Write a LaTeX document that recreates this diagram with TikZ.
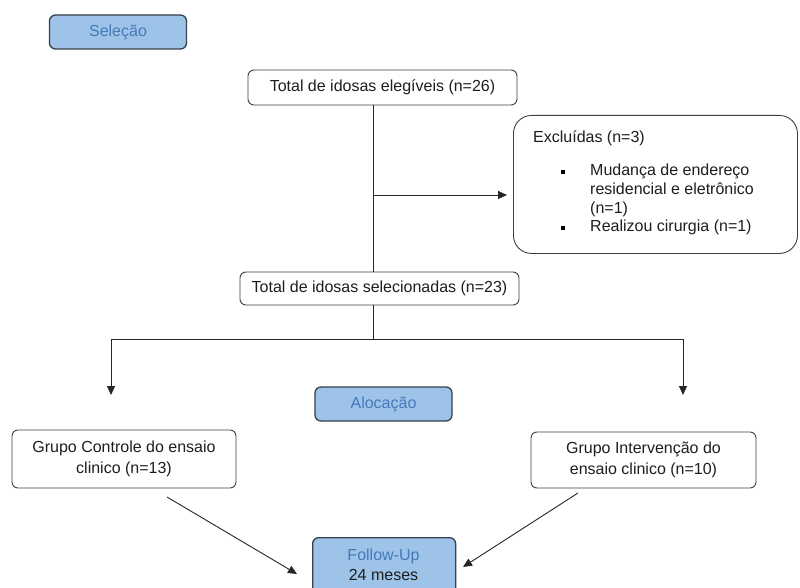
\documentclass[tikz,border=0pt]{standalone}
\usepackage{fontspec}
\setmainfont{Liberation Sans}
\usetikzlibrary{arrows.meta}
\definecolor{bluefill}{RGB}{157,195,232}
\definecolor{bluetext}{RGB}{68,122,186}
\definecolor{edgegray}{RGB}{64,64,64}
\definecolor{phaseedge}{RGB}{55,65,78}
\definecolor{inkgray}{RGB}{30,30,30}
\begin{document}
\begin{tikzpicture}[x=1pt,y=-1pt,
  box/.style={draw=edgegray, line width=0.9pt, rounded corners=6pt, fill=white,
    inner sep=0pt, align=center, text=inkgray, font=\fontsize{16}{21}\selectfont},
  phase/.style={draw=phaseedge, line width=1.3pt, rounded corners=6pt, fill=bluefill,
    inner sep=0pt, text=bluetext, align=center, font=\fontsize{16}{20}\selectfont},
  conn/.style={draw=black!85, line width=0.9pt},
  arr/.style={conn, -{Triangle[length=9pt,width=8pt]}},
  txt/.style={anchor=base west, inner sep=0pt, text=inkgray, font=\fontsize{16}{18}\selectfont},
  bullet/.style={fill=black, inner sep=0pt, minimum size=4pt}
]
\clip (0,0) rectangle (800,588);
\fill[white] (0,0) rectangle (800,588);

% phase labels
\node[phase, minimum width=137, minimum height=34] (sel) at (118,32) {Seleção};
\node[phase, minimum width=137, minimum height=34] (aloc) at (383.5,404) {Alocação};
\node[phase, minimum width=143, minimum height=70, anchor=north west] (fu) at (312,537) {};
\node[anchor=base, inner sep=0pt, text=bluetext, font=\fontsize{16}{18}\selectfont] (futop) at (383.5,560) {Follow-Up};
\node[anchor=base, inner sep=0pt, text=inkgray, font=\fontsize{16}{18}\selectfont] (fubot) at (383.5,580) {24 meses};

% main boxes
\node[box, minimum width=269, minimum height=35] (eleg) at (382.5,87.5) {Total de idosas elegíveis (n=26)};
\node[box, minimum width=279, minimum height=33] (selec) at (379.5,288.5) {Total de idosas selecionadas (n=23)};
\node[box, minimum width=224, minimum height=58] (gc) at (124,459) {Grupo Controle do ensaio\\clinico (n=13)};
\node[box, minimum width=225, minimum height=56] (gi) at (643.5,460) {Grupo Intervenção do\\ensaio clinico (n=10)};

% excluded box
\node[box, rounded corners=18pt, minimum width=284, minimum height=138, anchor=north west] (exc) at (513,115) {};
\node[txt] (exct) at (533,142.5) {Excluídas (n=3)};
\node[bullet] (b1) at (563,172) {};
\node[txt] (e1) at (590,176) {Mudança de endereço};
\node[txt] (e2) at (590,194.5) {residencial e eletrônico};
\node[txt] (e3) at (590,213) {(n=1)};
\node[bullet] (b2) at (563,228) {};
\node[txt] (e4) at (590,231.5) {Realizou cirurgia (n=1)};

% connectors
\coordinate (top) at (373,105);
\coordinate (br) at (373,195);
\coordinate (brend) at (507,195);
\coordinate (mid) at (373,272);
\coordinate (mid2) at (373,305);
\coordinate (split) at (373,339);
\coordinate (splitL) at (111,339);
\coordinate (splitR) at (683,339);
\coordinate (downL) at (111,395);
\coordinate (downR) at (683,395);
\coordinate (gcout) at (167,497);
\coordinate (fuinL) at (297,574);
\coordinate (giout) at (578,493);
\coordinate (fuinR) at (463,567);

\draw[conn] (top) -- (mid);
\draw[arr] (br) -- (brend);
\draw[conn] (mid2) -- (split);
\draw[conn] (splitL) -- (splitR);
\draw[arr] (splitL) -- (downL);
\draw[arr] (splitR) -- (downR);
\draw[arr] (gcout) -- (fuinL);
\draw[arr] (giout) -- (fuinR);
\end{tikzpicture}
\end{document}
